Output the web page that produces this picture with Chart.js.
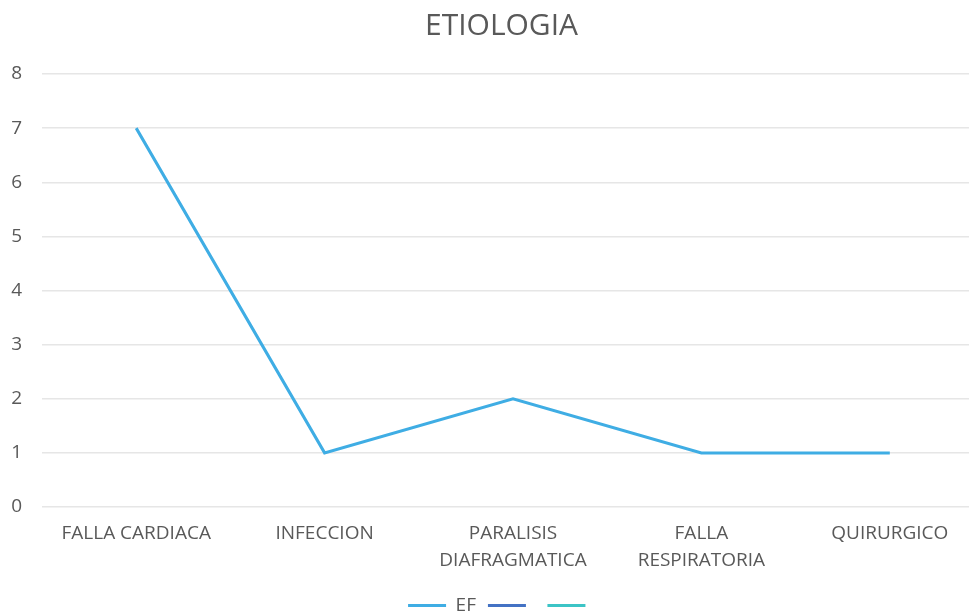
<!DOCTYPE html>
<html>
<head>
<meta charset="utf-8">
<script src="https://cdn.jsdelivr.net/npm/chart.js@4/dist/chart.umd.min.js"></script>
<style>
html,body{margin:0;padding:0;background:#fff;overflow:hidden;width:969px;height:616px;}
canvas{display:block;}
</style>
</head>
<body>
<canvas id="c" width="1006" height="625"></canvas>
<script>
const categories = ["FALLA CARDIACA", "INFECCION", ["PARALISIS", "DIAFRAGMATICA"], ["FALLA", "RESPIRATORIA"], "QUIRURGICO"];
const efValues = [7, 1, 2, 1, 1];
const series2Values = [null, null, null, null, null];
const series3Values = [null, null, null, null, null];
const yTicks = [0, 1, 2, 3, 4, 5, 6, 7, 8];

const FONT = "'Open Sans', 'DejaVu Sans', sans-serif";
const TXT = '#595959';

// let the y tick labels extend left of the (narrow) axis box without being clipped
const unclipYLabels = {
  id: 'unclipYLabels',
  afterLayout(chart) { chart.scales.y.left = 0; }
};

new Chart(document.getElementById('c'), {
  type: 'line',
  data: {
    labels: categories,
    datasets: [
      { label: 'EF', data: efValues, borderColor: '#3FADE4', backgroundColor: '#3FADE4', borderWidth: 3, pointRadius: 0, tension: 0 },
      { label: '', data: series2Values, borderColor: '#4472C4', backgroundColor: '#4472C4', borderWidth: 3, pointRadius: 0 },
      { label: '', data: series3Values, borderColor: '#3CC4C6', backgroundColor: '#3CC4C6', borderWidth: 3, pointRadius: 0 }
    ]
  },
  plugins: [unclipYLabels],
  options: {
    responsive: false,
    animation: false,
    layout: { padding: { left: 19, right: 22, top: 8, bottom: 0 } },
    plugins: {
      title: {
        display: true,
        text: 'ETIOLOGIA',
        color: TXT,
        font: { family: FONT, size: 30, weight: 'normal', lineHeight: 1.2 },
        padding: { top: 0, bottom: 30 }
      },
      legend: {
        position: 'bottom',
        labels: {
          usePointStyle: true,
          pointStyle: 'line',
          pointStyleWidth: 38,
          color: TXT,
          font: { family: FONT, size: 19 },
          padding: 12
        }
      },
      tooltip: { enabled: false }
    },
    scales: {
      x: {
        offset: true,
        grid: { display: false, drawTicks: false },
        border: { display: false },
        afterFit: (scale) => { scale.height = 77; },
        ticks: {
          color: TXT,
          font: { family: FONT, size: 19, lineHeight: 1.42 },
          padding: 13,
          maxRotation: 0,
          autoSkip: false
        }
      },
      y: {
        min: 0,
        max: 8,
        afterFit: (scale) => { scale.width = 23; },
        afterBuildTicks: (scale) => { scale.ticks = yTicks.map(v => ({ value: v })); },
        grid: { color: '#E6E6E6', lineWidth: 1.5, drawTicks: false },
        border: { display: false },
        ticks: {
          color: TXT,
          font: { family: FONT, size: 19 },
          padding: 20
        }
      }
    }
  }
});
</script>
</body>
</html>
